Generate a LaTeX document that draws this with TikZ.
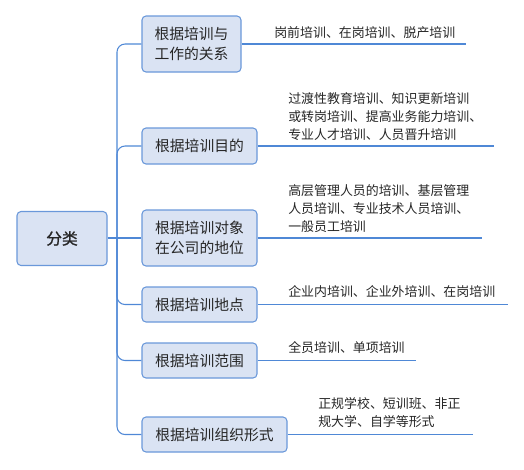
\documentclass[tikz,border=0pt]{standalone}
\usepackage{fontspec}
\newfontfamily\cjk{Noto Sans CJK SC}
\newfontfamily\cjkb[FakeBold=1.2]{Noto Sans CJK SC}
\definecolor{boxfill}{HTML}{DAE3F3}
\definecolor{boxline}{HTML}{6A98DA}
\definecolor{connc}{HTML}{4F88D6}
\definecolor{txt}{HTML}{262626}
\begin{document}
\begin{tikzpicture}[x=0.75pt,y=-0.75pt,
  box/.style={draw=boxline, fill=boxfill, rounded corners=3pt, line width=0.8pt,
    font=\cjk\fontsize{11.1}{15}\selectfont, text=txt, inner sep=0pt, align=left},
  rootbox/.style={box, font=\cjkb\fontsize{11.8}{15}\selectfont},
  conn/.style={draw=connc, line width=0.8pt},
  trunk/.style={conn, rounded corners=6pt},
  leaf/.style={font=\cjk\fontsize{9.7}{13.5}\selectfont, text=txt, anchor=west, inner sep=0pt, align=left}]
\useasboundingbox (0,0) rectangle (524,469);
% root
\node[rootbox, minimum width=90*0.75pt, minimum height=54*0.75pt] (root) at (62,238.5) {分类};
% children
\node[box, minimum width=99*0.75pt, minimum height=56*0.75pt] (c1) at (191.5,44) {根据培训与\\工作的关系};
\node[box, minimum width=115*0.75pt, minimum height=36*0.75pt] (c2) at (199.5,146) {根据培训目的};
\node[box, minimum width=115*0.75pt, minimum height=56*0.75pt] (c3) at (199.5,238) {根据培训对象\\在公司的地位};
\node[box, minimum width=115*0.75pt, minimum height=35*0.75pt] (c4) at (199.5,304.5) {根据培训地点};
\node[box, minimum width=115*0.75pt, minimum height=35*0.75pt] (c5) at (199.5,360.5) {根据培训范围};
\node[box, minimum width=145*0.75pt, minimum height=35*0.75pt] (c6) at (214.5,434.5) {根据培训组织形式};
% trunk
\coordinate (j) at (117,238);
\draw[conn] (root.east |- j) -- (c3.west);
\foreach \c in {c1,c2,c4,c5,c6} { \draw[trunk] (j) |- (\c.west); }
% leaf line ends
\coordinate (e1) at (466,44);
\coordinate (e2) at (494,146);
\coordinate (e3) at (482,238);
\coordinate (e4) at (508,304.5);
\coordinate (e5) at (416,360.5);
\coordinate (e6) at (473,434.5);
\draw[conn] (c1.east) -- (e1);
\draw[conn] (c2.east) -- (e2);
\draw[conn] (c3.east) -- (e3);
\draw[conn] (c4.east) -- (e4);
\draw[conn] (c5.east) -- (e5);
\draw[conn] (c6.east) -- (e6);
% leaf texts
\node[leaf] (t1) at (274,33) {岗前培训、在岗培训、脱产培训};
\node[leaf] (t2) at (288,117) {过渡性教育培训、知识更新培训\\或转岗培训、提高业务能力培训、\\专业人才培训、人员晋升培训};
\node[leaf] (t3) at (288,209) {高层管理人员的培训、基层管理\\人员培训、专业技术人员培训、\\一般员工培训};
\node[leaf] (t4) at (288,292) {企业内培训、企业外培训、在岗培训};
\node[leaf] (t5) at (288,348) {全员培训、单项培训};
\node[leaf] (t6) at (318,412.5) {正规学校、短训班、非正\\规大学、自学等形式};
\end{tikzpicture}
\end{document}
